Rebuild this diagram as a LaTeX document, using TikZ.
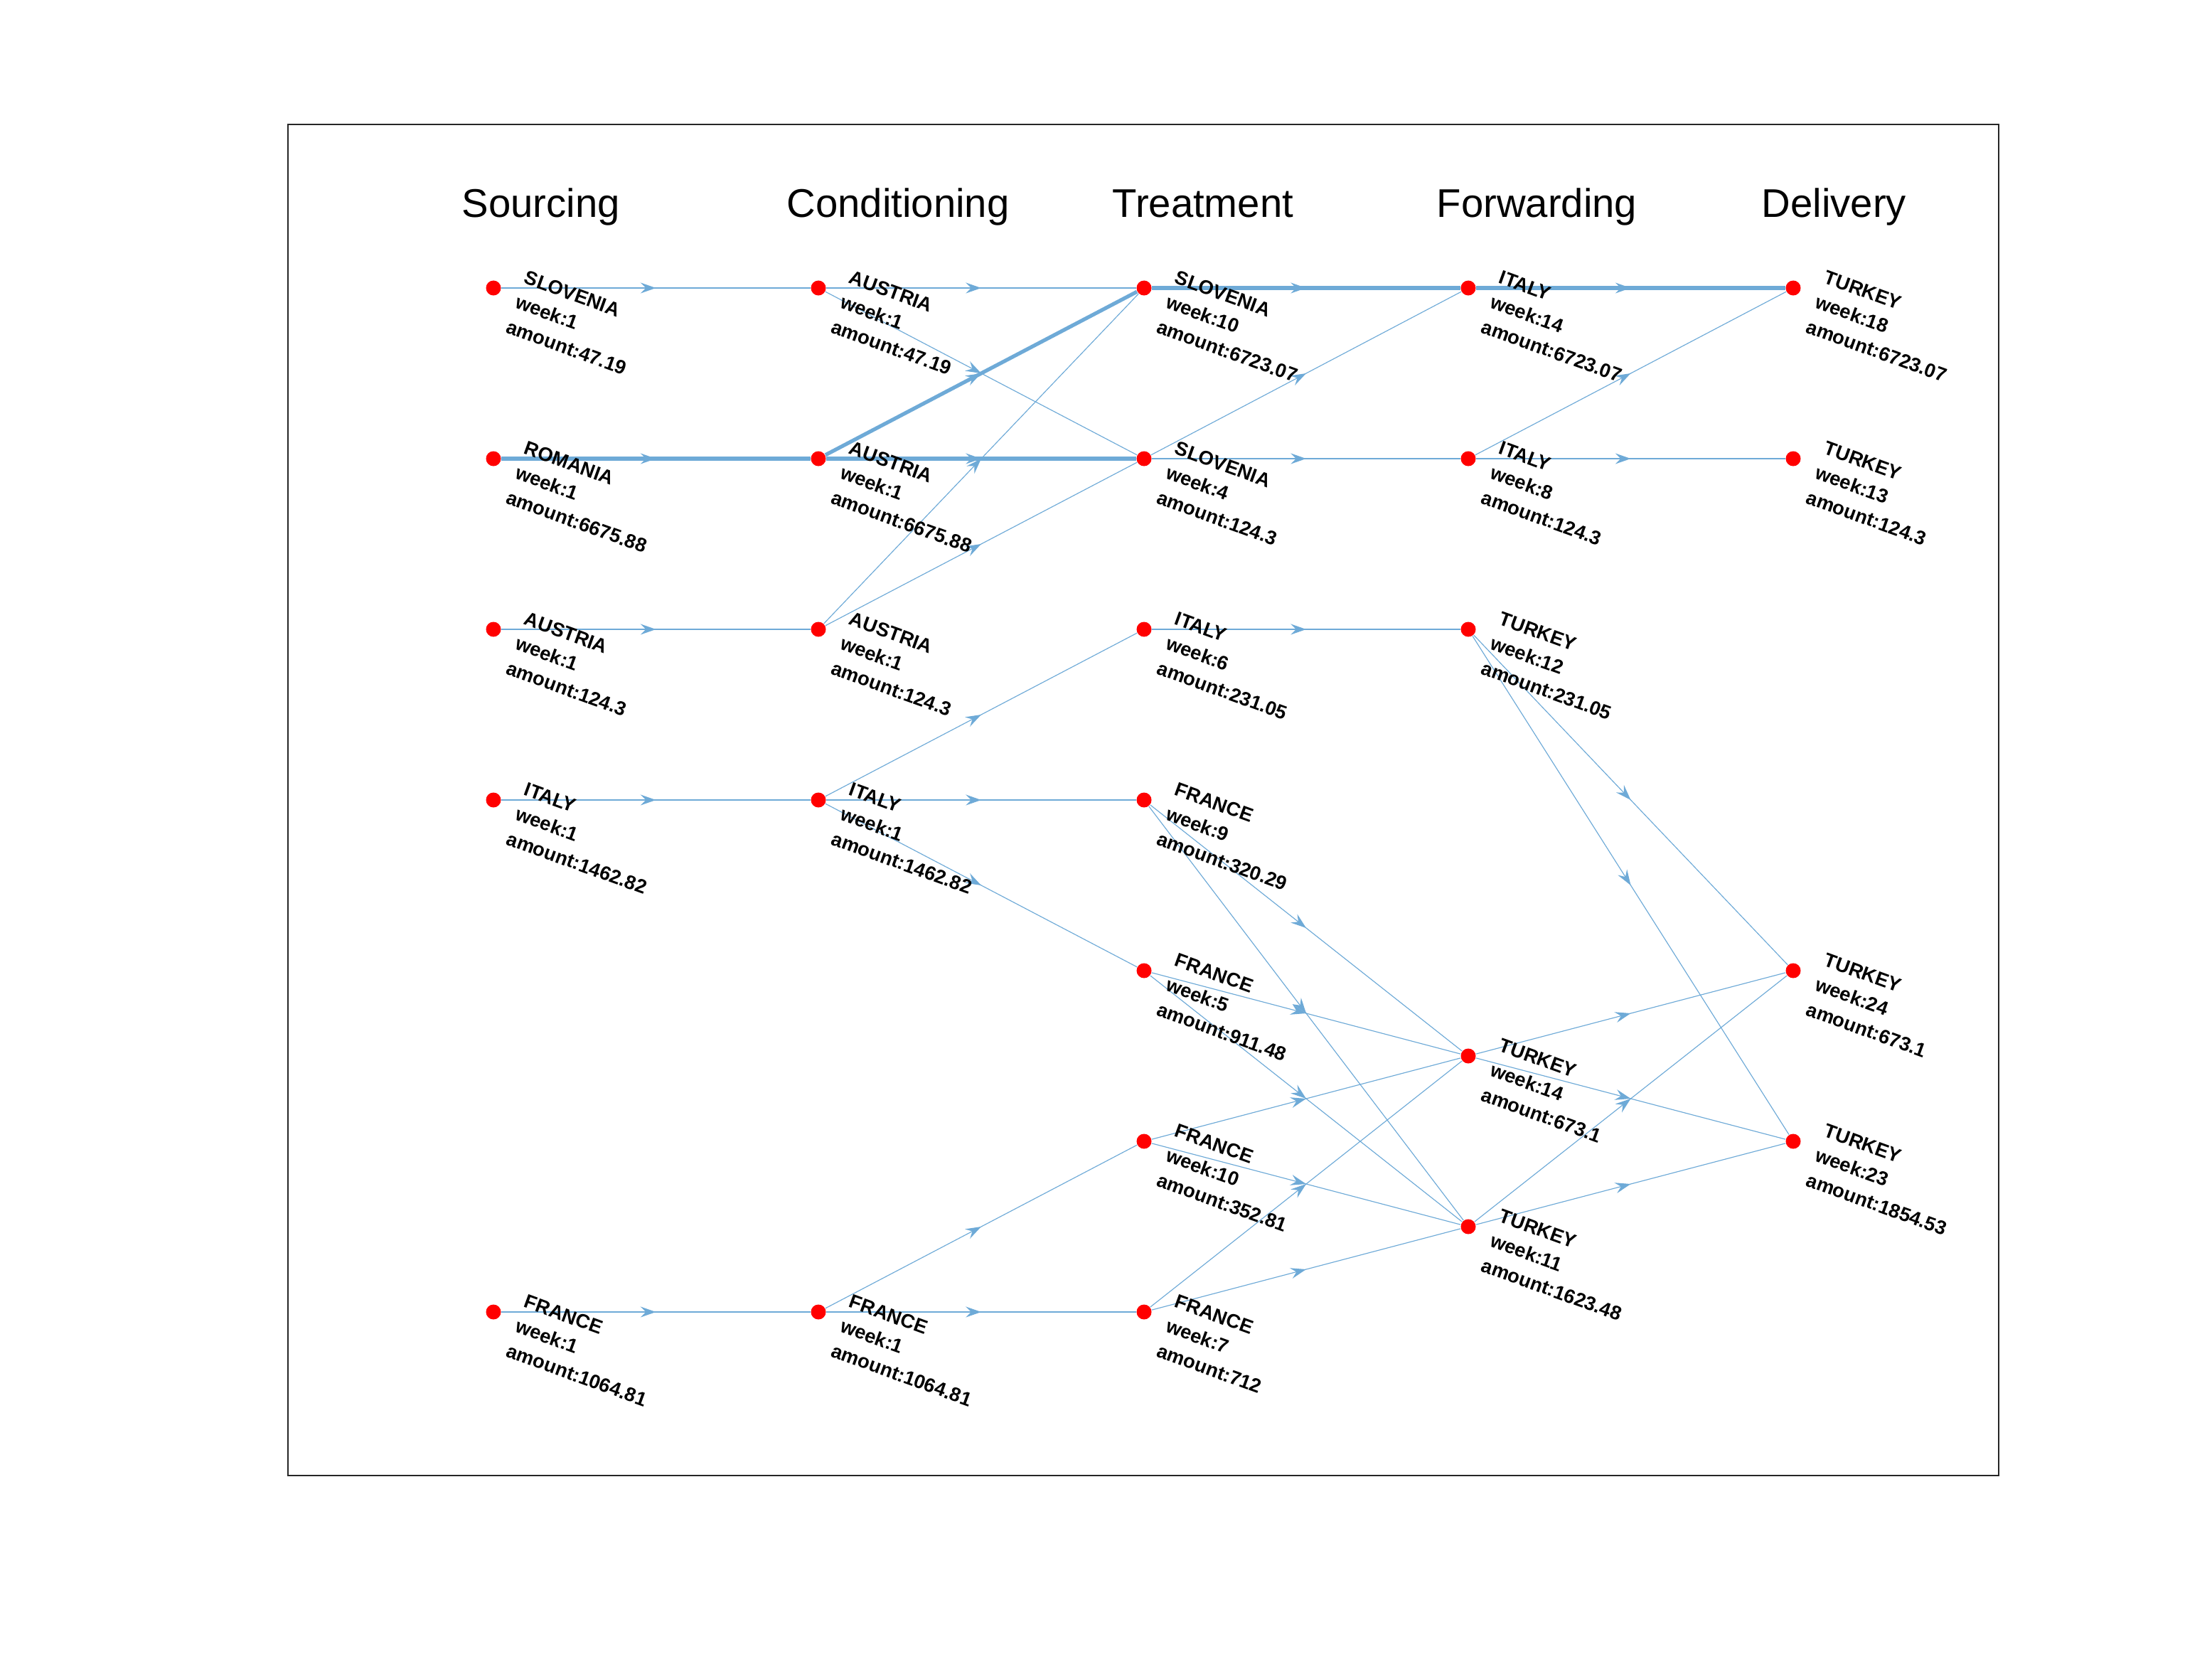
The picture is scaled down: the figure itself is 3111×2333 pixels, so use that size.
\documentclass[tikz,border=0pt]{standalone}
\usepackage{fontspec}
\setmainfont{Liberation Sans}
\usetikzlibrary{arrows.meta,decorations.markings}
\definecolor{edgeblue}{RGB}{110,170,215}
\definecolor{boxgray}{RGB}{38,38,38}
\tikzset{
  dot/.style={circle, fill=red, draw=none, inner sep=0pt, minimum size=0.21cm},
  flow/.style={draw=edgeblue, line width=0.33pt, postaction={decorate},
    decoration={markings, mark=at position 0.5 with {\arrow[edgeblue,line width=0.33pt]{Stealth[length=6.2pt,width=4.3pt,inset=2.2pt]}}}},
  heavy/.style={line width=1.5pt},
  lbl/.style={rotate=-20, anchor=north west, inner sep=0pt, align=left,
    font=\fontsize{7.8}{10.5}\selectfont\bfseries},
  ttl/.style={anchor=base west, inner sep=0pt, font=\fontsize{16}{19}\selectfont}
}
\begin{document}
\begin{tikzpicture}[x=0.01cm, y=-0.01cm]
\useasboundingbox (0,0) rectangle (3111,2333);
\draw[boxgray, line width=0.6pt] (405,175) rectangle (2811,2075);
% titles
\node[ttl] (h1) at (649,305) {Sourcing};
\node[ttl] (h2) at (1106,305) {Conditioning};
\node[ttl] (h3) at (1564,305) {Treatment};
\node[ttl] (h4) at (2020,305) {Forwarding};
\node[ttl] (h5) at (2477,305) {Delivery};
% dots
\node[dot] (s1) at (694,405) {};
\node[dot] (s2) at (694,645) {};
\node[dot] (s3) at (694,885) {};
\node[dot] (s4) at (694,1125) {};
\node[dot] (s5) at (694,1845) {};
\node[dot] (c1) at (1151,405) {};
\node[dot] (c2) at (1151,645) {};
\node[dot] (c3) at (1151,885) {};
\node[dot] (c4) at (1151,1125) {};
\node[dot] (c5) at (1151,1845) {};
\node[dot] (t1) at (1609,405) {};
\node[dot] (t2) at (1609,645) {};
\node[dot] (t3) at (1609,885) {};
\node[dot] (t4) at (1609,1125) {};
\node[dot] (t5) at (1609,1365) {};
\node[dot] (t6) at (1609,1605) {};
\node[dot] (t7) at (1609,1845) {};
\node[dot] (f1) at (2065,405) {};
\node[dot] (f2) at (2065,645) {};
\node[dot] (f3) at (2065,885) {};
\node[dot] (f4) at (2065,1485) {};
\node[dot] (f5) at (2065,1725) {};
\node[dot] (d1) at (2522,405) {};
\node[dot] (d2) at (2522,645) {};
\node[dot] (d3) at (2522,1365) {};
\node[dot] (d4) at (2522,1605) {};
% edges
\draw[flow] (s1) -- (c1);
\draw[flow,heavy] (s2) -- (c2);
\draw[flow] (s3) -- (c3);
\draw[flow] (s4) -- (c4);
\draw[flow] (s5) -- (c5);
\draw[flow] (c1) -- (t1);
\draw[flow] (c1) -- (t2);
\draw[flow,heavy] (c2) -- (t1);
\draw[flow,heavy] (c2) -- (t2);
\draw[flow] (c3) -- (t1);
\draw[flow] (c3) -- (t2);
\draw[flow] (c4) -- (t3);
\draw[flow] (c4) -- (t4);
\draw[flow] (c4) -- (t5);
\draw[flow] (c5) -- (t6);
\draw[flow] (c5) -- (t7);
\draw[flow,heavy] (t1) -- (f1);
\draw[flow] (t2) -- (f1);
\draw[flow] (t2) -- (f2);
\draw[flow] (t3) -- (f3);
\draw[flow] (t4) -- (f4);
\draw[flow] (t4) -- (f5);
\draw[flow] (t5) -- (f4);
\draw[flow] (t5) -- (f5);
\draw[flow] (t6) -- (f4);
\draw[flow] (t6) -- (f5);
\draw[flow] (t7) -- (f4);
\draw[flow] (t7) -- (f5);
\draw[flow,heavy] (f1) -- (d1);
\draw[flow] (f2) -- (d1);
\draw[flow] (f2) -- (d2);
\draw[flow] (f3) -- (d3);
\draw[flow] (f3) -- (d4);
\draw[flow] (f4) -- (d3);
\draw[flow] (f4) -- (d4);
\draw[flow] (f5) -- (d3);
\draw[flow] (f5) -- (d4);
% labels
\node[lbl] (ls1) at ([shift={(48,-26)}]s1.center) {SLOVENIA\\week:1\\amount:47.19};
\node[lbl] (ls2) at ([shift={(48,-26)}]s2.center) {ROMANIA\\week:1\\amount:6675.88};
\node[lbl] (ls3) at ([shift={(48,-26)}]s3.center) {AUSTRIA\\week:1\\amount:124.3};
\node[lbl] (ls4) at ([shift={(48,-26)}]s4.center) {ITALY\\week:1\\amount:1462.82};
\node[lbl] (ls5) at ([shift={(48,-26)}]s5.center) {FRANCE\\week:1\\amount:1064.81};
\node[lbl] (lc1) at ([shift={(48,-26)}]c1.center) {AUSTRIA\\week:1\\amount:47.19};
\node[lbl] (lc2) at ([shift={(48,-26)}]c2.center) {AUSTRIA\\week:1\\amount:6675.88};
\node[lbl] (lc3) at ([shift={(48,-26)}]c3.center) {AUSTRIA\\week:1\\amount:124.3};
\node[lbl] (lc4) at ([shift={(48,-26)}]c4.center) {ITALY\\week:1\\amount:1462.82};
\node[lbl] (lc5) at ([shift={(48,-26)}]c5.center) {FRANCE\\week:1\\amount:1064.81};
\node[lbl] (lt1) at ([shift={(48,-26)}]t1.center) {SLOVENIA\\week:10\\amount:6723.07};
\node[lbl] (lt2) at ([shift={(48,-26)}]t2.center) {SLOVENIA\\week:4\\amount:124.3};
\node[lbl] (lt3) at ([shift={(48,-26)}]t3.center) {ITALY\\week:6\\amount:231.05};
\node[lbl] (lt4) at ([shift={(48,-26)}]t4.center) {FRANCE\\week:9\\amount:320.29};
\node[lbl] (lt5) at ([shift={(48,-26)}]t5.center) {FRANCE\\week:5\\amount:911.48};
\node[lbl] (lt6) at ([shift={(48,-26)}]t6.center) {FRANCE\\week:10\\amount:352.81};
\node[lbl] (lt7) at ([shift={(48,-26)}]t7.center) {FRANCE\\week:7\\amount:712};
\node[lbl] (lf1) at ([shift={(48,-26)}]f1.center) {ITALY\\week:14\\amount:6723.07};
\node[lbl] (lf2) at ([shift={(48,-26)}]f2.center) {ITALY\\week:8\\amount:124.3};
\node[lbl] (lf3) at ([shift={(48,-26)}]f3.center) {TURKEY\\week:12\\amount:231.05};
\node[lbl] (lf4) at ([shift={(48,-26)}]f4.center) {TURKEY\\week:14\\amount:673.1};
\node[lbl] (lf5) at ([shift={(48,-26)}]f5.center) {TURKEY\\week:11\\amount:1623.48};
\node[lbl] (ld1) at ([shift={(48,-26)}]d1.center) {TURKEY\\week:18\\amount:6723.07};
\node[lbl] (ld2) at ([shift={(48,-26)}]d2.center) {TURKEY\\week:13\\amount:124.3};
\node[lbl] (ld3) at ([shift={(48,-26)}]d3.center) {TURKEY\\week:24\\amount:673.1};
\node[lbl] (ld4) at ([shift={(48,-26)}]d4.center) {TURKEY\\week:23\\amount:1854.53};
\end{tikzpicture}
\end{document}
